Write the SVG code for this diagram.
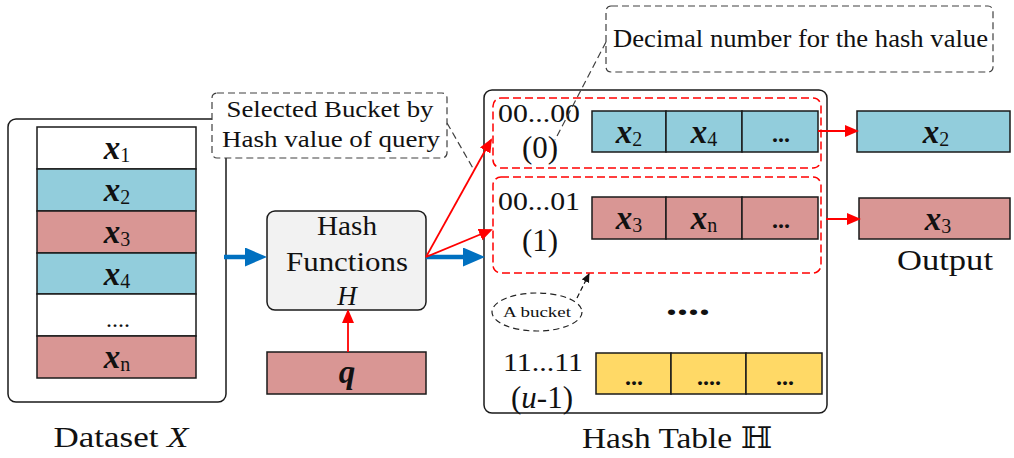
<svg xmlns="http://www.w3.org/2000/svg" width="1014" height="458" viewBox="0 0 1014 458">
<style>
  text { font-family: "Liberation Serif", "DejaVu Serif", serif; fill: #111; }
  .lbl { font-size: 24px; }
  .big { font-size: 30px; }
  .par { font-size: 31px; }
  .mx { font-weight: bold; font-style: italic; font-size: 33px; }
  .sub { font-size: 20px; }
  .it { font-style: italic; }
  .box { stroke: #1a1a1a; stroke-width: 1.5; }
  .frame { fill: #fff; stroke: #1a1a1a; stroke-width: 1.5; }
  .blue { fill: #92CDDC; }
  .red { fill: #D99694; }
  .yel { fill: #FFD966; }
  .callout { fill: #fff; stroke: #404040; stroke-width: 1.2; stroke-dasharray: 7 4; }
  .bucket { fill: none; stroke: #FF0000; stroke-width: 1.5; stroke-dasharray: 8 4; }
  .lead { fill: none; stroke: #404040; stroke-width: 1.2; stroke-dasharray: 7 4; }
  .rarrow { fill: none; stroke: #FF0000; stroke-width: 1.8; marker-end: url(#rhead); }
  .barrow { fill: none; stroke: #0070C0; stroke-width: 4.5; marker-end: url(#bhead); }
  .dots { font-weight: bold; font-size: 24px; }
</style>
<defs>
  <marker id="bhead" markerUnits="userSpaceOnUse" markerWidth="24" markerHeight="20" refX="0" refY="9.5" orient="auto">
    <path d="M0,0 L22,9.5 L0,19 z" fill="#0070C0"/>
  </marker>
  <marker id="rhead" markerUnits="userSpaceOnUse" markerWidth="16" markerHeight="14" refX="12" refY="6" orient="auto">
    <path d="M0,0 L14,6 L0,12 z" fill="#FF0000"/>
  </marker>
  <marker id="khead" markerUnits="userSpaceOnUse" markerWidth="12" markerHeight="10" refX="8" refY="4" orient="auto">
    <path d="M0,0 L9,4 L0,8 z" fill="#111"/>
  </marker>
</defs>

<!-- Dataset -->
<g id="dataset">
  <rect class="frame" x="8" y="119" width="218" height="283" rx="8"/>
  <rect class="box" fill="#fff" x="37" y="127" width="159" height="42"/>
  <rect class="box blue" x="37" y="169" width="159" height="42"/>
  <rect class="box red" x="37" y="211" width="159" height="42"/>
  <rect class="box blue" x="37" y="253" width="159" height="41"/>
  <rect class="box" fill="#fff" x="37" y="294" width="159" height="42"/>
  <rect class="box red" x="37" y="336" width="159" height="42"/>
  <text x="117" y="159" text-anchor="middle"><tspan class="mx">x</tspan><tspan class="sub" dy="3">1</tspan></text>
  <text x="117" y="201" text-anchor="middle"><tspan class="mx">x</tspan><tspan class="sub" dy="3">2</tspan></text>
  <text x="117" y="243" text-anchor="middle"><tspan class="mx">x</tspan><tspan class="sub" dy="3">3</tspan></text>
  <text x="117" y="285" text-anchor="middle"><tspan class="mx">x</tspan><tspan class="sub" dy="3">4</tspan></text>
  <text x="118" y="327" text-anchor="middle" class="lbl">....</text>
  <text x="117" y="368" text-anchor="middle"><tspan class="mx">x</tspan><tspan class="sub" dy="3">n</tspan></text>
  <text x="121" y="447" text-anchor="middle" class="big" textLength="135" lengthAdjust="spacingAndGlyphs">Dataset <tspan class="it">X</tspan></text>
</g>

<!-- Callout: selected bucket -->
<g id="callout-selected">
  <rect class="callout" x="212" y="93" width="235" height="65" rx="5"/>
  <text x="330" y="117" text-anchor="middle" style="font-size:23px" textLength="207" lengthAdjust="spacingAndGlyphs">Selected Bucket by</text>
  <text x="331" y="147" text-anchor="middle" style="font-size:23px" textLength="218" lengthAdjust="spacingAndGlyphs">Hash value of query</text>
</g>

<!-- Hash functions -->
<g id="hash-functions">
  <rect x="267" y="211" width="159" height="99" rx="8" fill="#F2F2F2" stroke="#1a1a1a" stroke-width="1.5"/>
  <text x="347" y="235" text-anchor="middle" style="font-size:27px" textLength="60" lengthAdjust="spacingAndGlyphs">Hash</text>
  <text x="347" y="271" text-anchor="middle" style="font-size:27px" textLength="122" lengthAdjust="spacingAndGlyphs">Functions</text>
  <text x="347" y="305" text-anchor="middle" style="font-size:27px" class="it">H</text>
</g>

<!-- Query -->
<g id="query">
  <rect class="box red" x="267" y="352" width="159" height="42"/>
  <text x="347" y="383" text-anchor="middle" class="mx">q</text>
</g>

<!-- Hash table -->
<g id="hash-table">
  <rect class="frame" x="484" y="90" width="343" height="323" rx="8"/>
  <text x="677" y="448" text-anchor="middle" class="big" textLength="190" lengthAdjust="spacingAndGlyphs">Hash Table ℍ</text>
</g>

<g id="bucket-0">
  <rect class="bucket" x="493" y="98" width="328" height="70" rx="8"/>
  <text x="539" y="122" text-anchor="middle" style="font-size:25px" textLength="82" lengthAdjust="spacingAndGlyphs">00...00</text>
  <text x="540" y="158" text-anchor="middle" class="par">(0)</text>
  <rect class="box blue" x="592" y="111" width="74" height="41"/>
  <rect class="box blue" x="666" y="111" width="76" height="41"/>
  <rect class="box blue" x="742" y="111" width="76" height="41"/>
  <text x="629" y="143" text-anchor="middle"><tspan class="mx">x</tspan><tspan class="sub" dy="3">2</tspan></text>
  <text x="704" y="143" text-anchor="middle"><tspan class="mx">x</tspan><tspan class="sub" dy="3">4</tspan></text>
  <text x="781" y="142" text-anchor="middle" class="dots">...</text>
</g>

<g id="bucket-1">
  <rect class="bucket" x="493" y="177" width="328" height="96" rx="8"/>
  <text x="539" y="210" text-anchor="middle" style="font-size:25px" textLength="82" lengthAdjust="spacingAndGlyphs">00...01</text>
  <text x="540" y="251" text-anchor="middle" class="par">(1)</text>
  <rect class="box red" x="592" y="197" width="74" height="42"/>
  <rect class="box red" x="666" y="197" width="76" height="42"/>
  <rect class="box red" x="742" y="197" width="76" height="42"/>
  <text x="629" y="229" text-anchor="middle"><tspan class="mx">x</tspan><tspan class="sub" dy="3">3</tspan></text>
  <text x="704" y="229" text-anchor="middle"><tspan class="mx">x</tspan><tspan class="sub" dy="3">n</tspan></text>
  <text x="781" y="228" text-anchor="middle" class="dots">...</text>
</g>

<g id="more-buckets">
  <text x="688" y="315" text-anchor="middle" style="font-size:34px;font-weight:bold" textLength="44" lengthAdjust="spacingAndGlyphs">....</text>
</g>

<g id="bucket-last">
  <text x="543" y="371" text-anchor="middle" style="font-size:25px" textLength="80" lengthAdjust="spacingAndGlyphs">11...11</text>
  <text x="542" y="408" text-anchor="middle" class="par">(<tspan class="it">u</tspan>-1)</text>
  <rect class="box yel" x="596" y="353" width="75" height="41"/>
  <rect class="box yel" x="671" y="353" width="75" height="41"/>
  <rect class="box yel" x="746" y="353" width="76" height="41"/>
  <text x="634" y="385" text-anchor="middle" class="dots">...</text>
  <text x="709" y="385" text-anchor="middle" class="dots">....</text>
  <text x="785" y="385" text-anchor="middle" class="dots">...</text>
</g>

<g id="a-bucket">
  <ellipse cx="537" cy="312" rx="45" ry="19" fill="#fff" stroke="#222" stroke-width="1.2" stroke-dasharray="6 4"/>
  <text x="537" y="317" text-anchor="middle" style="font-size:15px" textLength="68" lengthAdjust="spacingAndGlyphs">A bucket</text>
</g>

<!-- Output -->
<g id="output-1">
  <rect class="box blue" x="857" y="111" width="153" height="41"/>
  <text x="936" y="143" text-anchor="middle"><tspan class="mx">x</tspan><tspan class="sub" dy="3">2</tspan></text>
</g>
<g id="output-2">
  <rect class="box red" x="859" y="198" width="151" height="41"/>
  <text x="938" y="230" text-anchor="middle"><tspan class="mx">x</tspan><tspan class="sub" dy="3">3</tspan></text>
  <text x="945" y="270" text-anchor="middle" style="font-size:29px" textLength="96" lengthAdjust="spacingAndGlyphs">Output</text>
</g>

<!-- Callout: decimal -->
<g id="callout-decimal">
  <rect class="callout" x="606" y="6" width="387" height="66" rx="5"/>
  <text x="613" y="47" style="font-size:25px" textLength="375" lengthAdjust="spacingAndGlyphs">Decimal number for the hash value</text>
</g>

<!-- Connectors -->
<g id="connectors">
  <line class="barrow" x1="224" y1="257" x2="245" y2="257"/>
  <line class="barrow" x1="426" y1="257" x2="463" y2="257"/>
  <line class="rarrow" x1="348" y1="352" x2="348" y2="311"/>
  <line class="rarrow" x1="426" y1="257" x2="491" y2="140"/>
  <line class="rarrow" x1="426" y1="257" x2="491" y2="230"/>
  <line class="rarrow" x1="818" y1="131" x2="857" y2="131"/>
  <line class="rarrow" x1="826" y1="219" x2="859" y2="219"/>
  <line class="lead" x1="447" y1="123" x2="474" y2="170"/>
  <line class="lead" x1="606" y1="42" x2="555" y2="140"/>
  <line x1="577" y1="298" x2="589" y2="274" fill="none" stroke="#111" stroke-width="1.2" stroke-dasharray="5 3" marker-end="url(#khead)"/>
</g>
</svg>
